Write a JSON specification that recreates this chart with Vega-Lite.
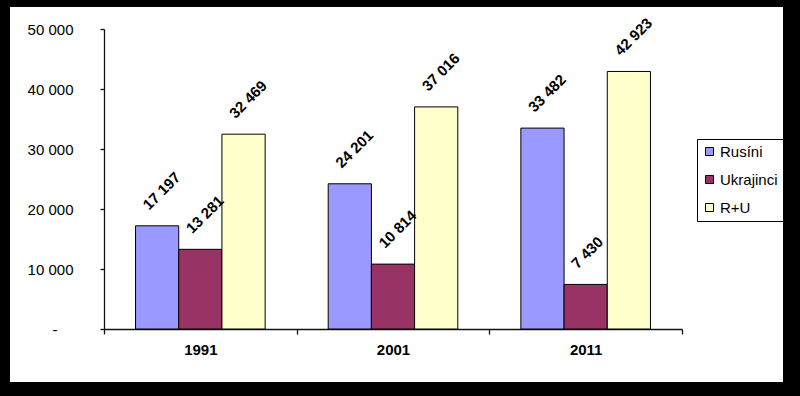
{
  "$schema": "https://vega.github.io/schema/vega-lite/v6.json",
  "width": 773,
  "height": 375,
  "autosize": {"type": "none"},
  "padding": {"left": 10, "top": 7, "right": 17, "bottom": 14},
  "background": "black",
  "config": {
    "locale": {"number": {"decimal": ",", "thousands": "\u00a0", "grouping": [3], "currency": ["", ""]}},
    "view": {"fill": "white", "stroke": null},
    "font": "Liberation Sans",
    "axis": {"domainColor": "#111111", "tickColor": "#111111", "domainWidth": 1.3, "tickWidth": 1.3, "grid": false, "title": null, "labelFont": "Liberation Sans", "labelColor": "#000000"}
  },
  "data": {"values": [
    {"year": "1991", "group": "Rusíni", "value": 17197},
    {"year": "1991", "group": "Ukrajinci", "value": 13281},
    {"year": "1991", "group": "R+U", "value": 32469},
    {"year": "2001", "group": "Rusíni", "value": 24201},
    {"year": "2001", "group": "Ukrajinci", "value": 10814},
    {"year": "2001", "group": "R+U", "value": 37016},
    {"year": "2011", "group": "Rusíni", "value": 33482},
    {"year": "2011", "group": "Ukrajinci", "value": 7430},
    {"year": "2011", "group": "R+U", "value": 42923}
  ]},
  "encoding": {
    "x": {"field": "year", "type": "nominal", "scale": {"range": [94, 672], "paddingInner": 0, "paddingOuter": 0},
      "axis": {"orient": "bottom", "offset": -53, "labelAngle": 0, "tickBand": "extent", "tickSize": 5, "labelFontSize": 15, "labelFontWeight": "bold", "labelPadding": 8}},
    "xOffset": {"field": "group", "type": "nominal", "sort": ["Rusíni", "Ukrajinci", "R+U"], "scale": {"paddingInner": 0, "paddingOuter": 0.73}},
    "y": {"field": "value", "type": "quantitative", "scale": {"domain": [0, 50000], "range": [322, 22], "nice": false},
      "axis": {"orient": "left", "offset": -94, "values": [0, 10000, 20000, 30000, 40000, 50000], "format": ",d", "tickSize": 4,
        "labelPadding": {"condition": {"test": "datum.value === 0", "value": 43}, "value": 27},
        "labelFontSize": 15,
        "labelExpr": "datum.value === 0 ? '-' : datum.label"}}
  },
  "layer": [
    {
      "mark": {"type": "bar", "stroke": "black", "strokeWidth": 1},
      "encoding": {
        "color": {"field": "group", "type": "nominal", "sort": ["Rusíni", "Ukrajinci", "R+U"],
          "scale": {"domain": ["Rusíni", "Ukrajinci", "R+U"], "range": ["#9999FF", "#993366", "#FFFFCC"]},
          "legend": {"title": null, "orient": "none", "legendX": 687, "legendY": 132, "direction": "vertical",
            "fillColor": "white", "strokeColor": "black", "padding": 5, "rowPadding": 12,
            "symbolType": "square", "symbolSize": 64, "symbolStrokeColor": "black", "symbolStrokeWidth": 1, "symbolOpacity": 1,
            "labelFontSize": 15, "labelFont": "Liberation Sans", "labelColor": "black", "labelOffset": 3}}
      }
    },
    {
      "mark": {"type": "text", "angle": 315, "align": "left", "baseline": "alphabetic", "dx": -5.7, "dy": -5.7, "yOffset": -15, "fontSize": 15, "fontWeight": "bold", "color": "black"},
      "encoding": {
        "text": {"field": "value", "type": "quantitative", "format": ",d"}
      }
    }
  ]
}
